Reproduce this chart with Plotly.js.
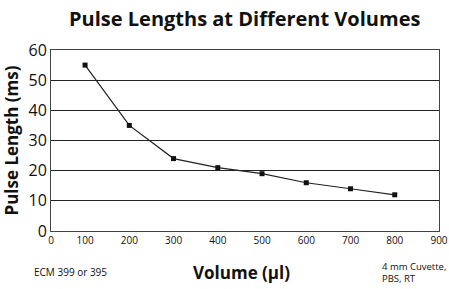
<!DOCTYPE html>
<html>
<head>
<meta charset="utf-8">
<script src="https://cdn.plot.ly/plotly-3.0.1.min.js"></script>
<style>html,body{margin:0;padding:0;background:#fff;}#chart{width:449px;height:289px;}</style>
</head>
<body>
<div id="chart"></div>
<script>
const volumes = [100, 200, 300, 400, 500, 600, 700, 800];
const pulseLengths = [55, 35, 24, 21, 19, 16, 14, 12];
const xTickVals = [23, 100, 200, 300, 400, 500, 600, 700, 800, 900];
const xTickText = ['0', '100', '200', '300', '400', '500', '600', '700', '800', '900'];
const yTickVals = [0, 10, 20, 30, 40, 50, 60];

const font = '"Open Sans", "DejaVu Sans", sans-serif';

Plotly.newPlot('chart', [{
  x: volumes,
  y: pulseLengths,
  type: 'scatter',
  mode: 'lines+markers',
  line: {color: '#222', width: 1.2},
  marker: {symbol: 'square', size: 5, color: '#111'},
  hoverinfo: 'none'
}], {
  width: 449, height: 289,
  margin: {l: 51, r: 10, t: 50, b: 58, pad: 0},
  paper_bgcolor: '#fff', plot_bgcolor: '#fff',
  showlegend: false,
  title: {text: '<b>Pulse Lengths at Different Volumes</b>', font: {family: font, size: 20, color: '#111'}, x: 0.545, xanchor: 'center', y: 0.935, yanchor: 'middle'},
  xaxis: {
    range: [23, 900], tickvals: xTickVals, ticktext: xTickText,
    showgrid: false, zeroline: false, showline: true, linecolor: '#444', linewidth: 1, mirror: true,
    ticks: '', ticklen: 0,
    tickfont: {family: font, size: 10, color: '#111'}
  },
  yaxis: {
    range: [0, 60], tickvals: yTickVals,
    showgrid: true, gridcolor: '#222', gridwidth: 1,
    zeroline: false, showline: true, linecolor: '#444', linewidth: 1, mirror: true,
    ticks: '', ticklen: 0,
    tickfont: {family: font, size: 16, color: '#111'},
    title: {text: '<b>Pulse Length (ms)</b>', font: {family: font, size: 17, color: '#111'}, standoff: 6}
  },
  annotations: [
    {text: '<b>Volume (µl)</b>', xref: 'paper', yref: 'paper', x: 0.49, y: -0.228, xanchor: 'center', yanchor: 'middle', showarrow: false, font: {family: font, size: 17, color: '#111'}},
    {text: 'ECM 399 or 395', xref: 'paper', yref: 'paper', x: -0.05, y: -0.228, xanchor: 'left', yanchor: 'middle', showarrow: false, font: {family: font, size: 10, color: '#111'}},
    {text: '4 mm Cuvette,<br>PBS, RT', xref: 'paper', yref: 'paper', x: 1.024, y: -0.228, xanchor: 'right', yanchor: 'middle', align: 'left', showarrow: false, font: {family: font, size: 9.5, color: '#111'}}
  ]
}, {staticPlot: true});
</script>
</body>
</html>
